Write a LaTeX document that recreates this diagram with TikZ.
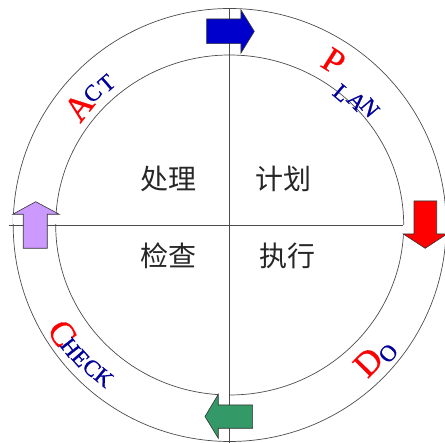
\documentclass[tikz,border=0pt]{standalone}
\usepackage{fontspec}
\setmainfont{Liberation Serif}
\newfontfamily\cjk{Noto Sans CJK SC}
\newfontfamily\ringfont[FakeBold=0.8]{Liberation Serif}
\usepackage{tikz}
\usetikzlibrary{calc}
\definecolor{capred}{HTML}{FF0000}
\definecolor{capnavy}{HTML}{000099}
\definecolor{arrowblue}{HTML}{0000CC}
\definecolor{arrowred}{HTML}{FF0000}
\definecolor{arrowgreen}{HTML}{339966}
\definecolor{arrowpurple}{HTML}{CC99FF}
\tikzset{
    cycleline/.style={draw=black!70, line width=0.7pt},
    cyclequad/.style={font=\cjk\fontsize{28}{28}\selectfont, text=black!85, inner sep=0pt},
    cyclebig/.style={font=\ringfont\fontsize{35}{35}\selectfont, text=capred, inner sep=0pt},
    cyclesmall/.style={font=\ringfont\fontsize{23}{23}\selectfont, text=capnavy, inner sep=0pt},
    cyclearrow/.style={draw=black!80, line width=0.6pt, line join=miter},
    cyclegap/.style={fill=white}
}

\begin{document}
\begin{tikzpicture}[x=1pt, y=1pt]
        \useasboundingbox (-229.7,-218) rectangle (215.3,225);
        \draw[cycleline] (0,0) circle[radius=216.5];
        \draw[cycleline] (0,0) ellipse[x radius=174, y radius=170];
        \coordinate (west) at (-220.5,0);
        \coordinate (east) at (216,0);
        \coordinate (north) at (0,216.5);
        \coordinate (south) at (0,-219);
        \draw[cycleline] (west) -- (east);
        \draw[cycleline] (north) -- (south);
        % gaps beside the arrow heads
        \path[cyclegap] (0.5,172) rectangle (11.3,215);
        \path[cyclegap] (173.6,-0.5) rectangle (217.3,-9);
        \path[cyclegap] (-11.4,-169.3) rectangle (-0.5,-213.3);
        \path[cyclegap] (-217,0.5) rectangle (-170.4,10.7);
        % arrows
        \draw[cyclearrow, fill=arrowblue] (-23,181.3) -- (-23,206) -- (11.3,206) -- (11.3,215) -- (24.6,193.6) -- (11.3,172) -- (11.3,181.3) -- cycle;
        \draw[cyclearrow, fill=arrowred] (184.3,24) -- (207,24) -- (207,-9) -- (217.3,-9) -- (195.5,-23.3) -- (173.6,-9) -- (184.3,-9) -- cycle;
        \draw[cyclearrow, fill=arrowgreen] (23,-180) -- (-11.4,-180) -- (-11.4,-169.3) -- (-24.7,-191.5) -- (-11.4,-213.3) -- (-11.4,-203.3) -- (23,-203.3) -- cycle;
        \draw[cyclearrow, fill=arrowpurple] (-206.4,-23.3) -- (-206.4,10.7) -- (-217,10.7) -- (-194,23.3) -- (-170.4,10.7) -- (-182.4,10.7) -- (-182.4,-23.3) -- cycle;
        % quadrant labels
        \node[cyclequad] (act) at (-61.3,46) {处理};
        \node[cyclequad] (plan) at (54.3,46) {计划};
        \node[cyclequad] (check) at (-61.3,-30.8) {检查};
        \node[cyclequad] (do) at (58.3,-30.8) {执行};
        % ring letters, upper half
        \foreach \ch/\ang/\rad/\kind [count=\i] in {P/57.6/194/cyclebig, L/49.7/173/cyclesmall, A/44.3/177.5/cyclesmall, N/39.9/182.5/cyclesmall, A/141.9/191.6/cyclebig, C/136.2/190/cyclesmall, T/131/187.6/cyclesmall}
            \node[\kind, rotate=\ang-90] (top\i) at (\ang:\rad) {\ch};
        % ring letters, lower half
        \foreach \ch/\ang/\rad/\kind [count=\i] in {C/212.9/199.4/cyclebig, H/217.5/201/cyclesmall, E/221.8/200/cyclesmall, C/226/198.5/cyclesmall, K/230.5/197.8/cyclesmall, D/-44.7/195/cyclebig, O/-39/204/cyclesmall}
            \node[\kind, rotate=\ang+90] (bot\i) at (\ang:\rad) {\ch};
    \end{tikzpicture}
\end{document}
